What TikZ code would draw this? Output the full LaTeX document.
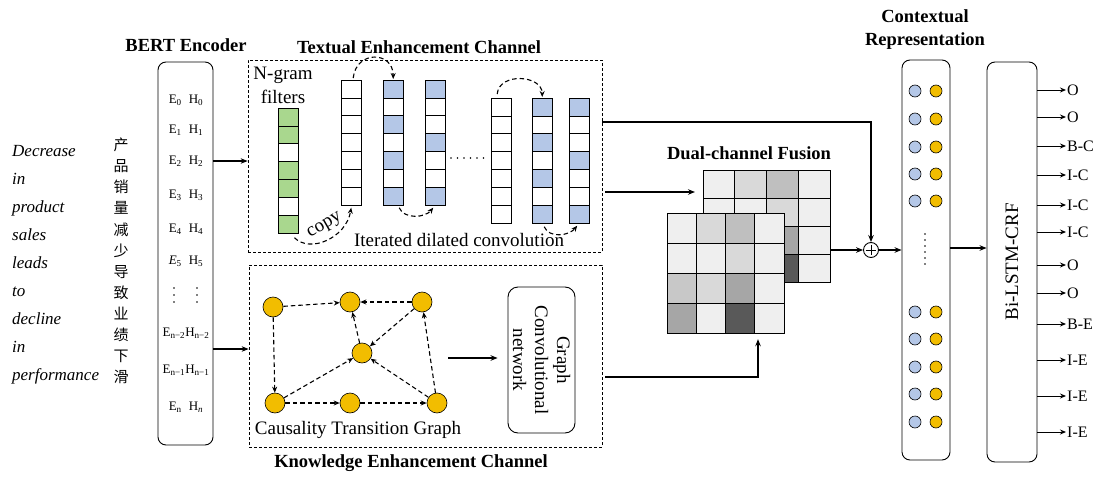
\documentclass[tikz,border=0pt]{standalone}
\usepackage{fontspec}
\setmainfont{Liberation Serif}
\newfontfamily\cjk{Noto Sans CJK SC}
\usetikzlibrary{arrows.meta,calc}
\definecolor{cyel}{HTML}{F2BD00}
\definecolor{cblu}{HTML}{B4C7E7}
\definecolor{cgrn}{HTML}{A9D78E}
\definecolor{ga}{HTML}{EFEFEF}
\definecolor{gb}{HTML}{D9D9D9}
\definecolor{gc}{HTML}{BFBFBF}
\definecolor{gd}{HTML}{C8C8C8}
\definecolor{ge}{HTML}{A6A6A6}
\definecolor{gf}{HTML}{595959}
\tikzset{
  rbox/.style={draw, rounded corners=8pt, line width=0.9pt, inner sep=0pt},
  dbox/.style={draw, line width=0.7pt, dash pattern=on 3pt off 2pt, inner sep=0pt},
  arr/.style={-{Stealth[length=7pt,width=5.5pt]}, line width=1.4pt},
  oarr/.style={-{Stealth[length=6pt,width=5pt]}, line width=0.9pt},
  darr/.style={-{Stealth[length=6pt,width=5pt]}, line width=1.1pt, dash pattern=on 4.5pt off 3pt},
  ynode/.style={circle, draw, fill=cyel, minimum size=20pt, inner sep=0pt, line width=0.6pt},
  cdot/.style={circle, draw, minimum size=12pt, inner sep=0pt, line width=0.6pt},
  ttl/.style={font=\bfseries\fontsize{18.5}{22}\selectfont, inner sep=0pt},
  lbl/.style={font=\fontsize{19}{22}\selectfont, inner sep=0pt},
  itl/.style={font=\itshape\fontsize{17}{20}\selectfont, inner sep=0pt, anchor=base west},
  eh/.style={font=\fontsize{13}{15}\selectfont, inner sep=0pt},
  outl/.style={font=\fontsize{16}{18}\selectfont, anchor=west, inner sep=1pt},
}
\newcommand\filtcol[5]{%
  \foreach \cc [count=\i from 0] in {#5} {
    \filldraw[fill=\cc, line width=0.8pt] (#2,#3+\i*#4) rectangle ++(20,#4);
  }
  \node[inner sep=0pt, minimum width=20pt, minimum height={#4*7pt}, anchor=north west] (#1) at (#2,#3) {};
}
\newcommand\gridmat[5]{%
  \foreach \rw [count=\r from 0] in {{ga,gb,gc,ga},{ga,ga,gb,ga},{gd,gb,ge,ga},{ge,ga,gf,ga}} {
    \foreach \cc [count=\k from 0] in \rw {
      \filldraw[fill=\cc, line width=0.7pt] (#2+\k*#4,#3+\r*#5) rectangle ++(#4,#5);
    }
  }
  \node[draw, line width=1.2pt, inner sep=0pt, minimum width={#4*4pt}, minimum height={#5*4pt}, anchor=north west] (#1) at (#2,#3) {};
}
\begin{document}
\begin{tikzpicture}[x=1pt,y=-1pt]
\useasboundingbox (0,0) rectangle (1101,479);

% left input text
\foreach \w [count=\i from 0] in {Decrease,in,product,sales,leads,to,decline,in,performance} {
  \node[itl] (w\i) at (12,156+\i*28) {\w};
}
\node[font=\cjk\fontsize{15}{21.1}\selectfont, align=center, inner sep=0pt] (zh) at (121,261)
  {产\\品\\销\\量\\减\\少\\导\\致\\业\\绩\\下\\滑};

% BERT encoder
\node[ttl] (bertt) at (186,45) {BERT Encoder};
\node[rbox, minimum width=55pt, minimum height=383pt] (bert) at (185.5,253.5) {};
\node[eh] (e0) at (186,100) {E\textsubscript{0}\hspace{7pt}H\textsubscript{0}};
\node[eh] (e1) at (186,130) {E\textsubscript{1}\hspace{7pt}H\textsubscript{1}};
\node[eh] (e2) at (186,161) {E\textsubscript{2}\hspace{7pt}H\textsubscript{2}};
\node[eh] (e3) at (186,195) {E\textsubscript{3}\hspace{7pt}H\textsubscript{3}};
\node[eh] (e4) at (186,229) {E\textsubscript{4}\hspace{7pt}H\textsubscript{4}};
\node[eh] (e5) at (186,261) {\textit{E}\textsubscript{5}\hspace{7pt}H\textsubscript{5}};
\foreach \yy in {288,295,302} { \fill (174,\yy) circle (0.9pt); \fill (197,\yy) circle (0.9pt); }
\node[eh] (e6) at (186,333) {E\textsubscript{n−2}H\textsubscript{n−2}};
\node[eh] (e7) at (186,370) {E\textsubscript{n−1}H\textsubscript{n−1}};
\node[eh] (e8) at (186,407) {E\textsubscript{n}\hspace{7pt}H\textsubscript{\textit{n}}};

% textual enhancement channel
\node[ttl] (tbt) at (419,47) {Textual Enhancement Channel};
\node[dbox, minimum width=354pt, minimum height=192pt] (tb) at (425,156) {};
\node[lbl, align=center, font=\fontsize{19}{24}\selectfont] (ngram) at (283,85) {N-gram\\filters};
\filtcol{c1}{278}{108}{17.9}{cgrn,cgrn,white,cgrn,cgrn,white,cgrn}
\filtcol{c2}{341}{80}{17.9}{white,white,white,white,white,white,white}
\filtcol{c3}{383}{80}{17.9}{cblu,white,cblu,white,cblu,white,cblu}
\filtcol{c4}{425}{80}{17.9}{cblu,white,white,cblu,white,white,cblu}
\filtcol{c5}{491}{98}{17.9}{white,white,white,white,white,white,white}
\filtcol{c6}{532}{98}{17.9}{cblu,white,cblu,white,cblu,white,cblu}
\filtcol{c7}{569}{98}{17.9}{cblu,white,white,cblu,white,white,cblu}
\foreach \xx [count=\i] in {451,457.5,464,470.5,477,483.5} { \fill (\xx,158) circle (0.9pt); }
\draw[darr] ([xshift=2pt,yshift=2pt]c2.north) .. controls +(3,-28) and +(0,-28) .. ([yshift=1pt]c3.north);
\draw[darr] ([xshift=6pt,yshift=-2pt]c3.south) .. controls +(5,12) and +(-8,10) .. ([xshift=-2pt,yshift=-2pt]c4.south);
\draw[darr] ([xshift=-4pt,yshift=4pt]c5.north) .. controls +(2,-22) and +(0,-22) .. ([yshift=1pt]c6.north);
\draw[darr] ([xshift=2pt,yshift=-3pt]c6.south) .. controls +(5,12) and +(-8,10) .. ([xshift=-2pt,yshift=-2pt]c7.south);
\draw[darr] ([xshift=-4pt,yshift=-4pt]c1.south east) .. controls +(16,16) and +(-5,30) .. ([yshift=-2pt]c2.south);
\node[lbl, rotate=30] (copy) at (325,226) {copy};
\node[lbl] (idc) at (459,240) {Iterated dilated convolution};

% knowledge enhancement channel
\node[dbox, minimum width=353pt, minimum height=182pt] (kb) at (425.5,356) {};
\node[ttl] (kbt) at (411,463) {Knowledge Enhancement Channel};
\node[ynode] (gA) at (273,307) {};
\node[ynode] (gB) at (350,302) {};
\node[ynode] (gC) at (422,302) {};
\node[ynode] (gD) at (362,353) {};
\node[ynode] (gE) at (275,403) {};
\node[ynode] (gF) at (350,403) {};
\node[ynode] (gG) at (437,403) {};
\draw[darr] (gA) -- (gB);
\draw[darr] (gC) -- (gB);
\draw[darr] (gD) -- (gB);
\draw[darr] (gC) -- (gD);
\draw[darr] (gE) -- (gD);
\draw[darr] (gG) -- (gD);
\draw[darr] (gA) -- (gE);
\draw[darr] (gE) -- (gF);
\draw[darr] (gF) -- (gG);
\draw[darr] (gG) -- (gC);
\node[lbl] (ctg) at (358,430) {Causality Transition Graph};
\node[rbox, rounded corners=10pt, minimum width=67pt, minimum height=146pt] (gcn) at (541.5,360) {};
\node[lbl, rotate=-90, align=center] (gcnt) at (gcn) {Graph\\Convolutional\\network};
\coordinate (gout) at (448,358);
\draw[arr] (gout) -- ([xshift=-10pt]gout -| gcn.west);

% BERT -> channels
\coordinate (kin) at (230,349);
\draw[arr] (e2 -| bert.east) -- (e2 -| tb.west);
\draw[arr] (kin -| bert.east) -- (kin -| kb.west);

% fusion
\node[ttl] (dft) at (749,153) {Dual-channel Fusion};
\gridmat{mB}{703}{170}{31.75}{28}
\gridmat{mF}{667}{213}{29.25}{30}
\node[circle, draw, line width=0.9pt, minimum size=15pt, inner sep=0pt] (plus) at (871,250) {};
\draw[line width=0.8pt] ([yshift=-2.5pt]plus.north) -- ([yshift=2.5pt]plus.south) ([xshift=2.5pt]plus.west) -- ([xshift=-2.5pt]plus.east);
\coordinate (t1) at (700,122);
\coordinate (t2) at (700,192);
\coordinate (k1) at (700,377);
\draw[arr] (t1 -| tb.east) -| (plus.north);
\draw[arr] ([xshift=3pt]t2 -| tb.east) -- ([xshift=-8pt]t2 -| mB.west);
\draw[arr] ([xshift=3pt]k1 -| kb.east) -| ([yshift=-5pt]mF.south -| 758,0);
\draw[arr] (plus -| mB.east) -- (plus.west);

% contextual representation
\node[ttl, align=center, font=\bfseries\fontsize{18.5}{23}\selectfont] (ctxt) at (925,30) {Contextual\\Representation};
\node[rbox, minimum width=48pt, minimum height=400pt] (ctx) at (926,260) {};
\foreach \yy in {91,119,147,174,201,312,339,367,394,422} {
  \node[cdot, fill=cblu] (cb\yy) at (915,\yy) {};
  \node[cdot, fill=cyel] (cy\yy) at (936,\yy) {};
}
\foreach \yy in {234,240,246,252,258,264} { \fill (925,\yy) circle (0.9pt); }
\draw[arr] (plus.east) -- (plus -| ctx.west);

% Bi-LSTM-CRF
\node[rbox, minimum width=50pt, minimum height=400pt] (lstm) at (1012,262) {};
\node[lbl, rotate=90] (lstmt) at (lstm) {Bi-LSTM-CRF};
\coordinate (cl) at (960,248);
\draw[arr] (cl -| ctx.east) -- (cl -| lstm.west);
\foreach \yy/\t [count=\i] in {90/O,117/O,146/B-C,175/I-C,205/I-C,232/I-C,265/O,293/O,324/B-E,360/I-E,396/I-E,432/I-E} {
  \node[outl] (out\i) at (1066,\yy) {\t};
  \draw[oarr] (lstm.east |- out\i) -- (out\i.west);
}
\end{tikzpicture}
\end{document}
